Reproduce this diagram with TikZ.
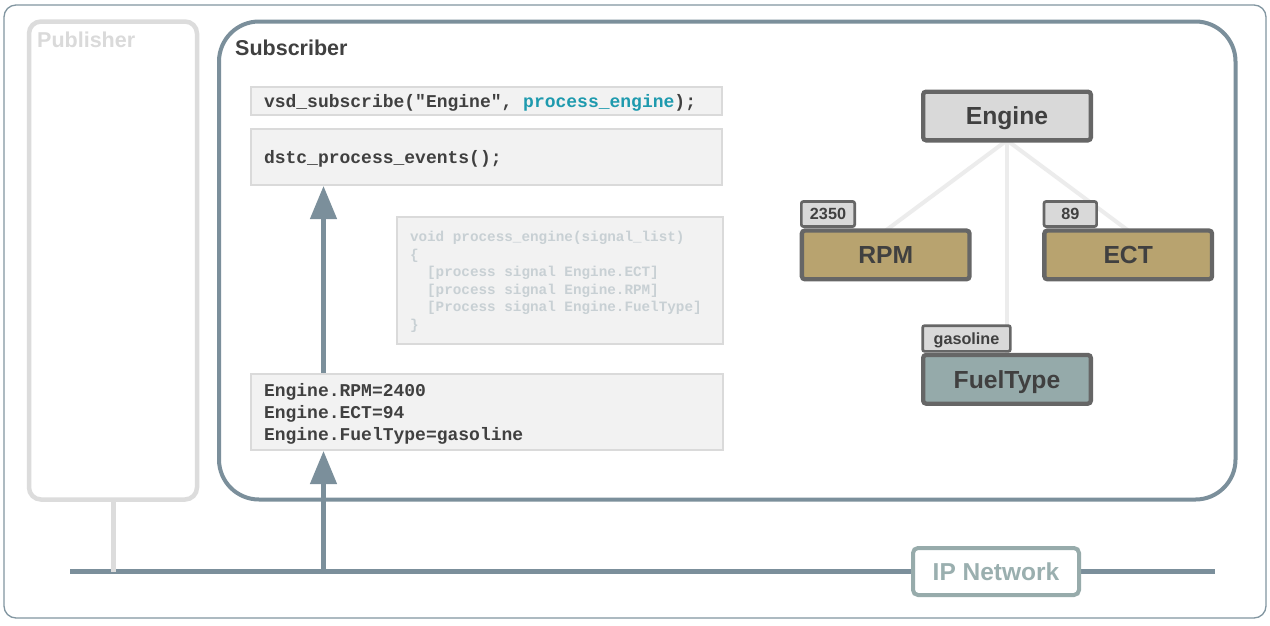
\documentclass[tikz,border=0pt]{standalone}
\usepackage{fontspec}
\setmainfont{Liberation Sans}
\newfontfamily\monofont{Liberation Mono}
\newcommand\codefont[2]{\fontsize{#1}{#2}\selectfont\monofont\bfseries}
\newcommand\ms{\hspace*{0.6em}}
\usetikzlibrary{arrows.meta}
\pgfdeclarelayer{bg}
\pgfdeclarelayer{edges}
\pgfsetlayers{bg,edges,main}
\definecolor{framecol}{HTML}{8296A1}
\definecolor{subcol}{HTML}{7B8F9B}
\definecolor{pubgray}{HTML}{DCDCDC}
\definecolor{pubtext}{HTML}{DADADA}
\definecolor{codefill}{HTML}{F2F2F2}
\definecolor{codeborder}{HTML}{DADADA}
\definecolor{darktext}{HTML}{404040}
\definecolor{lightcode}{HTML}{C8D0D4}
\definecolor{tealtext}{HTML}{1E9AAE}
\definecolor{treeborder}{HTML}{666666}
\definecolor{enginefill}{HTML}{D9D9D9}
\definecolor{sigfill}{HTML}{B8A36F}
\definecolor{fuelfill}{HTML}{95AAAA}
\definecolor{treeline}{HTML}{ECECEC}
\definecolor{ipborder}{HTML}{97ABAB}
\definecolor{iptext}{HTML}{9AAFAF}
\begin{document}
\begin{tikzpicture}[x=1pt,y=-1pt,
  codebox/.style={draw=codeborder, fill=codefill, line width=2pt, inner xsep=13pt, inner ysep=0pt,
    align=left, text=darktext, text height=12.4pt, text depth=0pt,
    font=\codefont{18}{22}},
  tbox/.style={draw=treeborder, line width=4.3pt, rounded corners=3pt, minimum width=167.7pt,
    minimum height=48.7pt, inner sep=0pt, outer sep=0pt, text=darktext,
    text height=17.7pt, text depth=0pt,
    font=\fontsize{24.7}{25}\selectfont\bfseries},
  tagbox/.style={draw=treeborder, fill=enginefill, line width=2.7pt, rounded corners=2pt, inner sep=0pt,
    outer sep=0pt, minimum height=25pt, text=darktext, text height=11.6pt, text depth=0pt,
    font=\fontsize{16.2}{16}\selectfont\bfseries},
  treeedge/.style={draw=treeline, line width=4pt},
  netline/.style={draw=subcol, line width=5pt},
  uparrow/.style={draw=subcol, line width=4.5pt, -{Triangle[width=26pt,length=33pt]}, fill=subcol},
]
\begin{pgfonlayer}{bg}
\fill[white] (0,0) rectangle (1270,625);
\end{pgfonlayer}
\useasboundingbox (0,0) rectangle (1270,625);

% outer frame
\node[draw=framecol, line width=1.3pt, rounded corners=12pt, minimum width=1262pt, minimum height=613pt,
  inner sep=0pt] (frame) at (635,311.5) {};

% publisher
\node[draw=pubgray, line width=4.5pt, rounded corners=12pt, minimum width=168pt, minimum height=478pt,
  inner sep=0pt] (pub) at (113,260.5) {};
\node[anchor=base west, inner sep=0pt, text=pubtext, font=\fontsize{21.5}{22}\selectfont\bfseries]
  (publabel) at (37,47) {Publisher};

% subscriber
\node[draw=subcol, line width=4pt, rounded corners=40pt, minimum width=1016.5pt, minimum height=478pt,
  inner sep=0pt] (sub) at (727.25,260.5) {};
\node[anchor=base west, inner sep=0pt, text=darktext, font=\fontsize{21.5}{22}\selectfont\bfseries]
  (sublabel) at (235,55) {Subscriber};

% code boxes
\node[codebox, text width=445pt, minimum height=28pt] (vsd) at (486.5,101)
  {vsd\_subscribe("Engine",\ms\textcolor{tealtext}{process\_engine});};
\node[codebox, text width=445pt, minimum height=56pt] (dstc) at (486.5,157)
  {dstc\_process\_events();};
\node[codebox, text width=300pt, minimum height=127pt, text=lightcode, text height=9.8pt,
  text depth=88pt, font=\codefont{14.3}{17.6}] (proc) at (560,280.5)
  {void\ms process\_engine(signal\_list)\\
   \{\\
   \ms\ms[process\ms signal\ms Engine.ECT]\\
   \ms\ms[process\ms signal\ms Engine.RPM]\\
   \ms\ms[Process\ms signal\ms Engine.FuelType]\\
   \}};
\node[codebox, text width=446pt, minimum height=76pt, text depth=44pt] (vals) at (487,412)
  {Engine.RPM=2400\\
   Engine.ECT=94\\
   Engine.FuelType=gasoline};

% network
\coordinate (netL) at (70,571.5);
\coordinate (netR) at (1215,571.5);
\coordinate (arrx) at (323.5,0);
\draw[netline] (netL) -- (netR);
\draw[draw=pubgray, line width=5pt] (pub.south) -- (pub.south |- netL);
\node[draw=ipborder, fill=white, line width=4pt, rounded corners=5pt, minimum width=166pt,
  minimum height=47pt, inner sep=0pt, text=iptext, text height=17.5pt, text depth=0pt,
  font=\fontsize{24.5}{25}\selectfont\bfseries]
  (ip) at (996,571.5) {IP Network};

% arrows
\draw[uparrow] (arrx |- netL) -- (arrx |- vals.south);
\draw[uparrow] (arrx |- vals.north) -- (arrx |- dstc.south);

% tree
\node[tagbox, minimum width=53.3pt] (tagrpm) at (828,214) {2350};
\node[tagbox, minimum width=52.6pt] (tagect) at (1070.3,214) {89};
\node[tagbox, minimum width=87.7pt, minimum height=25.7pt] (tagfuel) at (966.5,338.5) {gasoline};
\node[tbox, fill=enginefill] (eng) at (1007,116) {Engine};
\node[tbox, fill=sigfill] (rpm) at (885.7,254.9) {RPM};
\node[tbox, fill=sigfill] (ect) at (1128.2,254.9) {ECT};
\node[tbox, fill=fuelfill] (fuel) at (1007,379.3) {FuelType};
\begin{pgfonlayer}{edges}
\draw[treeedge] (eng.south) -- (rpm.north);
\draw[treeedge] (eng.south) -- (ect.north);
\draw[treeedge] (eng.south) -- (fuel.north);
\end{pgfonlayer}
\end{tikzpicture}
\end{document}
